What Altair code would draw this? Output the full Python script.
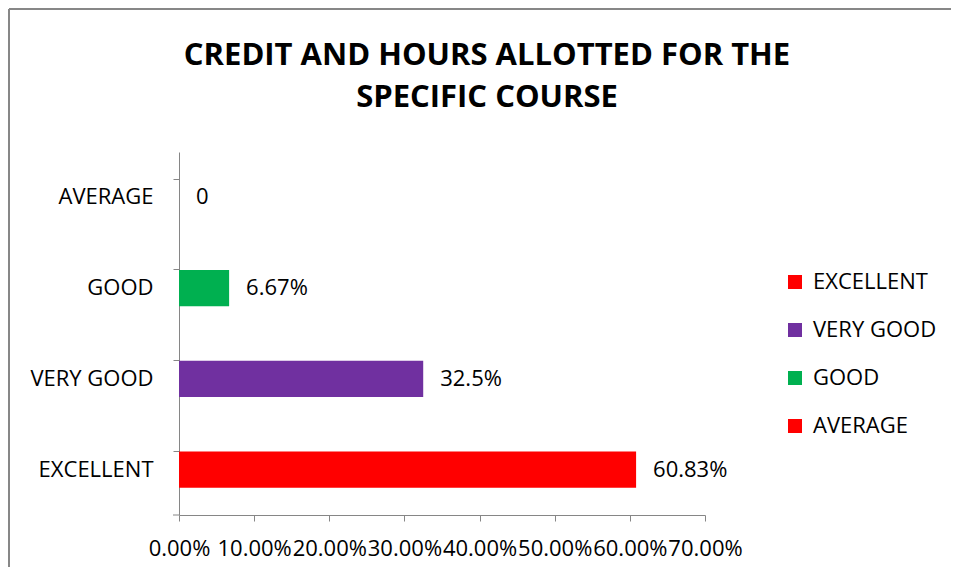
import altair as alt
import pandas as pd

categories = ["EXCELLENT", "VERY GOOD", "GOOD", "AVERAGE"]
values = [0.6083, 0.325, 0.0667, 0.0]
value_labels = ["60.83%", "32.5%", "6.67%", "0"]
colors = ["#FF0000", "#7030A0", "#00B050", "#FF0000"]
x_ticks = [0.0, 0.1, 0.2, 0.3, 0.4, 0.5, 0.6, 0.7]
title_lines = ["CREDIT AND HOURS ALLOTTED FOR THE", "SPECIFIC COURSE"]

df = pd.DataFrame({"cat": categories, "val": values, "lab": value_labels})
order = list(reversed(categories))

FONT = "Open Sans"
W, H = 526, 363
PL, PT = 171, 144
AXC = "#868686"

y_enc = alt.Y("cat:N", sort=order,
              scale=alt.Scale(paddingInner=0.6, paddingOuter=0.3),
              axis=alt.Axis(title=None, domainColor=AXC, tickColor=AXC, tickSize=6,
                            bandPosition=0, labelPadding=20, labelFontSize=22,
                            labelFont=FONT, labelColor="#000000", grid=False,
                            labelAlign="right"))
x_enc = alt.X("val:Q", scale=alt.Scale(domain=[0, 0.7], nice=False),
              axis=alt.Axis(title=None, values=x_ticks, format=".2%", domainColor=AXC,
                            tickColor=AXC, tickSize=6, labelPadding=17, labelFontSize=22,
                            labelFont=FONT, labelColor="#000000", grid=False,
                            labelOverlap=False, labelFlush=False))

bars = alt.Chart(df).mark_bar().encode(
    x=x_enc, y=y_enc,
    color=alt.Color("cat:N", scale=alt.Scale(domain=categories, range=colors),
                    legend=alt.Legend(title=None, orient="none", legendX=605, legendY=119,
                                      symbolType="square", symbolSize=196,
                                      symbolStrokeWidth=0, labelFontSize=22,
                                      labelFont=FONT, labelColor="#000000",
                                      rowPadding=26, labelOffset=7)),
)

text = alt.Chart(df).mark_text(align="left", baseline="middle", dx=17, fontSize=22,
                               font=FONT, color="#000000").encode(
    x="val:Q", y=alt.Y("cat:N", sort=order), text="lab:N")

one = pd.DataFrame({"k": [0]})
title1 = alt.Chart(one).mark_text(text=title_lines[0], align="center", baseline="middle",
                                  fontSize=31, font=FONT, fontWeight="bold",
                                  color="#000000").encode(
    x=alt.value(308), y=alt.value(-96))
title2 = alt.Chart(one).mark_text(text=title_lines[1], align="center", baseline="middle",
                                  fontSize=31, font=FONT, fontWeight="bold",
                                  color="#000000").encode(
    x=alt.value(308), y=alt.value(-54))
extra_tick = alt.Chart(one).mark_rule(color=AXC).encode(
    x=alt.value(-6), x2=alt.value(0), y=alt.value(H), y2=alt.value(H))
border_left = alt.Chart(one).mark_rule(color="#878787", strokeWidth=2).encode(
    x=alt.value(-170), x2=alt.value(-170), y=alt.value(-143), y2=alt.value(H + 100))
border_top = alt.Chart(one).mark_rule(color="#878787", strokeWidth=2).encode(
    x=alt.value(-170), x2=alt.value(W + 300), y=alt.value(-143), y2=alt.value(-143))

chart = alt.layer(bars, text, title1, title2, extra_tick, border_left, border_top).properties(
    width=W, height=H,
    background="white",
    autosize=alt.AutoSizeParams(type="none"),
    padding={"left": PL, "top": PT, "right": 943 - PL - W, "bottom": 52},
).configure_view(stroke=None)

chart.save("out.html", embed_options={"renderer": "svg", "actions": False})
